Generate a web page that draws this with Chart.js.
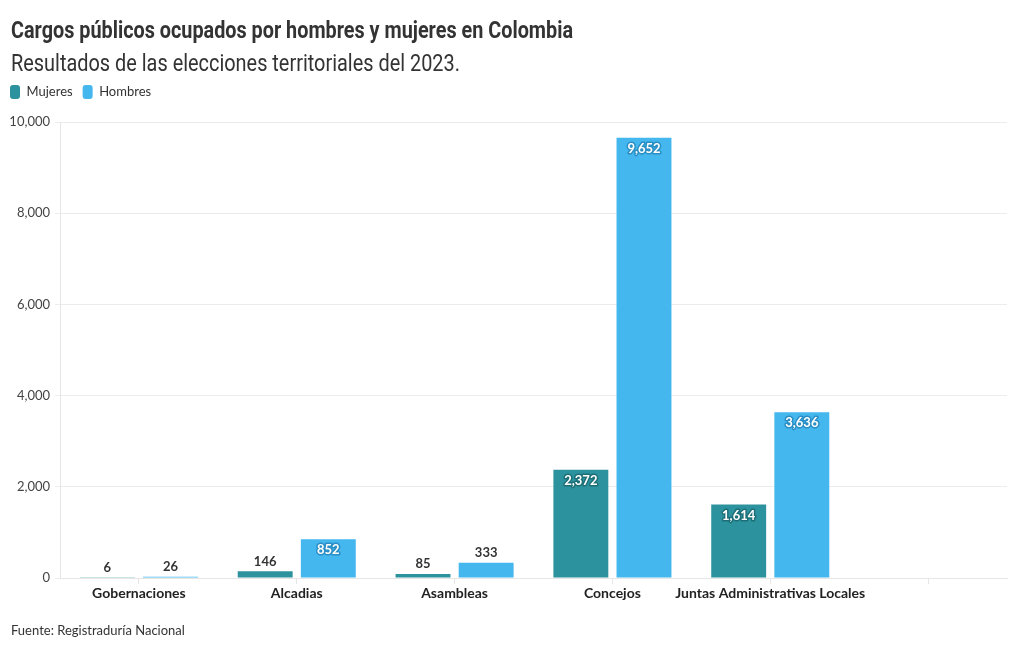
<!DOCTYPE html>
<html><head><meta charset="utf-8">
<script src="https://cdn.jsdelivr.net/npm/chart.js@4/dist/chart.umd.min.js"></script>
<style>
html,body{margin:0;padding:0;background:#fff;width:1020px;height:650px;overflow:hidden;}
#wrap{position:relative;width:1020px;height:650px;}
canvas{position:absolute;left:0;top:0;}
.t{position:absolute;left:11px;white-space:nowrap;transform-origin:0 0;color:#333;font-family:Roboto,sans-serif;}
#title{top:17px;font-size:23px;font-weight:700;}
#sub{top:49px;font-size:24px;font-weight:400;}
#src{position:absolute;left:11px;top:622px;font-family:Lato,sans-serif;font-size:13px;color:#333;}
</style></head>
<body><div id="wrap">
<canvas id="c" width="1020" height="650"></canvas>
<div class="t" id="title" data-w="562">Cargos públicos ocupados por hombres y mujeres en Colombia</div>
<div class="t" id="sub" data-w="449">Resultados de las elecciones territoriales del 2023.</div>
<div id="src">Fuente: Registraduría Nacional</div>
</div>
<script>
const categories = ['Gobernaciones', 'Alcadias', 'Asambleas', 'Concejos', 'Juntas Administrativas Locales', ''];
const mujeres = [6, 146, 85, 2372, 1614, null];
const hombres = [26, 852, 333, 9652, 3636, null];
const yTicks = [0, 2000, 4000, 6000, 8000, 10000];

document.querySelectorAll('.t').forEach(el => {
  const w = el.getBoundingClientRect().width;
  el.style.transform = 'scaleX(' + (parseFloat(el.dataset.w) / w) + ')';
});

const colM = '#2c939e', colH = '#45b7ef';
const darkM = '#1d6f77', darkH = '#2a8fc4';

const labelPlugin = {
  id: 'valueLabels',
  afterDatasetsDraw(chart) {
    const ctx = chart.ctx;
    ctx.save();
    ctx.font = '700 13px Lato, sans-serif';
    ctx.textAlign = 'center';
    ctx.textBaseline = 'middle';
    chart.data.datasets.forEach((ds, di) => {
      const meta = chart.getDatasetMeta(di);
      meta.data.forEach((el, i) => {
        const v = ds.data[i];
        if (v == null) return;
        const txt = v.toLocaleString('en-US');
        const h = el.base - el.y;
        if (h > 30) {
          ctx.lineJoin = 'round';
          ctx.lineWidth = 3;
          ctx.strokeStyle = di === 0 ? darkM : darkH;
          ctx.strokeText(txt, el.x, el.y + 11);
          ctx.fillStyle = '#fff';
          ctx.fillText(txt, el.x, el.y + 11);
        } else {
          ctx.fillStyle = '#333';
          ctx.fillText(txt, el.x, el.y - 10);
        }
      });
    });
    ctx.restore();
  }
};

const legendSpace = {
  id: 'legendSpace',
  afterInit(chart) {
    const lg = chart.legend;
    if (!lg) return;
    const orig = lg.fit;
    lg.fit = function () { orig.call(this); this.height += 13; };
  }
};

new Chart(document.getElementById('c'), {
  type: 'bar',
  data: {
    labels: categories,
    datasets: [
      { label: 'Mujeres', data: mujeres, backgroundColor: colM, categoryPercentage: 0.8, barPercentage: 0.87 },
      { label: 'Hombres', data: hombres, backgroundColor: colH, categoryPercentage: 0.8, barPercentage: 0.87 }
    ]
  },
  options: {
    responsive: false,
    animation: false,
    layout: { padding: { top: 75, left: 0, right: 13, bottom: 42 } },
    plugins: {
      legend: {
        display: true,
        position: 'top',
        align: 'start',
        labels: {
          boxWidth: 10, boxHeight: 14, padding: 10,
          useBorderRadius: true, borderRadius: 3,
          color: '#333', font: { family: 'Lato, sans-serif', size: 13 }
        }
      },
      title: { display: false },
      tooltip: { enabled: false }
    },
    scales: {
      x: {
        grid: { offset: false, drawOnChartArea: false, drawTicks: true, tickLength: 6, color: '#e6e6e6' },
        border: { color: '#e6e6e6' },
        ticks: { color: '#222', font: { family: 'Lato, sans-serif', size: 14, weight: '700' }, padding: 1, maxRotation: 0, autoSkip: false },
        afterFit(s) { s.height = 30; }
      },
      y: {
        min: 0, max: 10000,
        afterBuildTicks(s) { s.ticks = yTicks.map(v => ({ value: v })); },
        grid: { color: '#ececec', tickLength: 5 },
        border: { color: '#e6e6e6' },
        ticks: { color: '#444', padding: 5, font: { family: 'Lato, sans-serif', size: 13 },
          callback: v => Number(v).toLocaleString('en-US') },
        afterFit(s) { s.width = 60; }
      }
    }
  },
  plugins: [labelPlugin, legendSpace]
});
</script>
</body></html>
